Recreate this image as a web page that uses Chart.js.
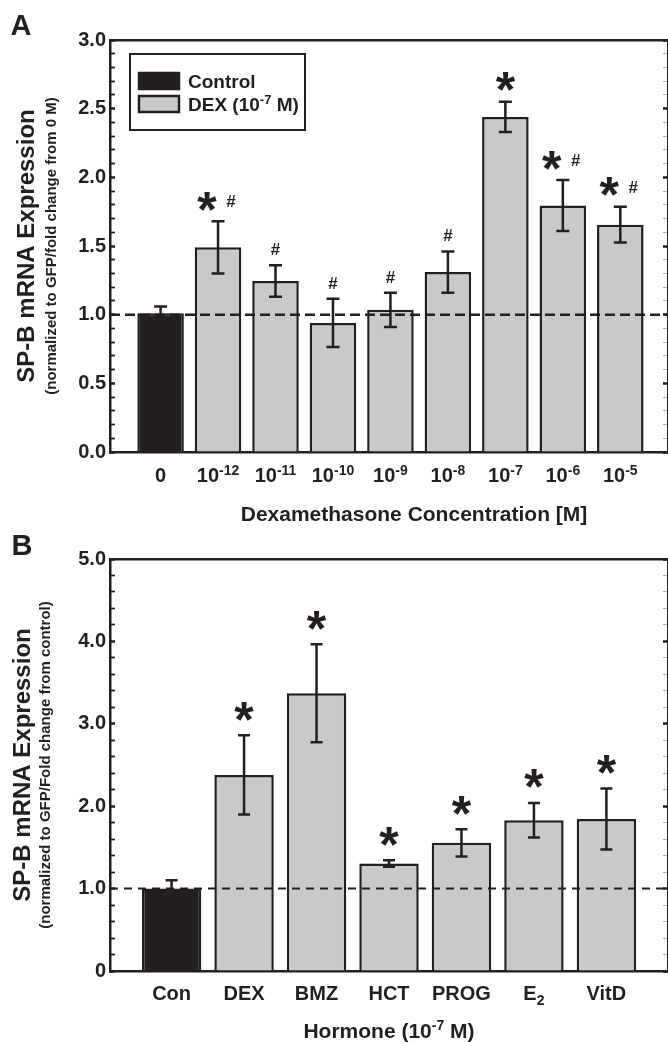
<!DOCTYPE html>
<html>
<head>
<meta charset="utf-8">
<script src="https://cdn.jsdelivr.net/npm/chart.js@4/dist/chart.umd.min.js"></script>
<style>
  html, body { margin: 0; padding: 0; background: #fff; }
  canvas { display: block; }
</style>
</head>
<body>
<canvas id="panelA" width="668" height="528"></canvas>
<canvas id="panelB" width="668" height="515"></canvas>
<script>
// Panel A: dexamethasone dose response
const doseLabels = ['0', '10⁻¹²', '10⁻¹¹', '10⁻¹⁰', '10⁻⁹', '10⁻⁸', '10⁻⁷', '10⁻⁶', '10⁻⁵'];
const doseMeans = [1.01, 1.49, 1.245, 0.94, 1.035, 1.31, 2.44, 1.795, 1.655];
const doseErrors = [0.05, 0.19, 0.115, 0.175, 0.125, 0.15, 0.11, 0.185, 0.13];
const doseMarks = ['', '*#', '#', '#', '#', '#', '*', '*#', '*#'];
const legendLabels = ['Control', 'DEX (10⁻⁷ M)'];

// Panel B: hormones at 10^-7 M
const hormoneLabels = ['Con', 'DEX', 'BMZ', 'HCT', 'PROG', 'E₂', 'VitD'];
const hormoneMeans = [1.0, 2.38, 3.37, 1.305, 1.555, 1.83, 1.845];
const hormoneErrors = [0.1, 0.48, 0.595, 0.04, 0.165, 0.21, 0.37];
const hormoneMarks = ['', '*', '*', '*', '*', '*', '*'];

const INK = '#231f20';
const GREY = '#c8c9cb';
const FONT = '"Liberation Sans", Arial, Helvetica, sans-serif';
const bold = size => ({ family: FONT, size: size, weight: 'bold' });

const SUP = { '⁻': '-', '⁰': '0', '¹': '1', '²': '2', '³': '3', '⁴': '4', '⁵': '5', '⁶': '6', '⁷': '7', '⁸': '8', '⁹': '9' };
const SUB = { '₀': '0', '₁': '1', '₂': '2', '₃': '3' };

// split "10⁻¹²" into runs of normal / raised / lowered text
function runs(str) {
  const out = [];
  for (const ch of str) {
    const kind = SUP[ch] ? 'sup' : SUB[ch] ? 'sub' : 'n';
    const c = SUP[ch] || SUB[ch] || ch;
    if (out.length && out[out.length - 1].kind === kind) out[out.length - 1].t += c;
    else out.push({ kind: kind, t: c });
  }
  return out;
}

// draw text with real superscripts/subscripts; cy = middle of the capitals
function richText(ctx, str, x, cy, size, align) {
  const small = Math.round(size * 0.68);
  const parts = runs(str).map(r => {
    ctx.font = 'bold ' + (r.kind === 'n' ? size : small) + 'px ' + FONT;
    return Object.assign(r, { w: ctx.measureText(r.t).width });
  });
  const total = parts.reduce((s, r) => s + r.w, 0);
  let px = align === 'center' ? x - total / 2 : x;
  const base = cy + size * 0.36;
  ctx.textAlign = 'left';
  ctx.textBaseline = 'alphabetic';
  parts.forEach(r => {
    ctx.font = 'bold ' + (r.kind === 'n' ? size : small) + 'px ' + FONT;
    const dy = r.kind === 'sup' ? -size * 0.36 : r.kind === 'sub' ? size * 0.22 : 0;
    ctx.fillText(r.t, px, base + dy);
    px += r.w;
  });
}

// text drawn centred on its ink, not on its em box
function inkText(ctx, str, x, cy) {
  const m = ctx.measureText(str);
  ctx.fillText(str, x, cy + (m.actualBoundingBoxAscent - m.actualBoundingBoxDescent) / 2);
}

const extras = {
  id: 'extras',
  afterDatasetsDraw(chart, args, p) {
    const { ctx, chartArea: a, scales: { x, y } } = chart;
    ctx.save();
    ctx.strokeStyle = INK;
    ctx.fillStyle = INK;

    // dashed line at fold change 1
    const yRef = y.getPixelForValue(1);
    ctx.lineWidth = p.dashWidth;
    ctx.setLineDash(p.dash);
    ctx.beginPath();
    ctx.moveTo(a.left, yRef);
    ctx.lineTo(a.right + 10, yRef);
    ctx.stroke();
    ctx.setLineDash([]);

    // error bars + significance marks
    ctx.lineWidth = 2.5;
    ctx.textAlign = 'center';
    p.means.forEach((m, i) => {
      const cx = x.getPixelForValue(i);
      const top = y.getPixelForValue(m + p.errors[i]);
      const bot = y.getPixelForValue(m - p.errors[i]);
      ctx.beginPath();
      ctx.moveTo(cx, top); ctx.lineTo(cx, bot);
      ctx.moveTo(cx - p.cap, top); ctx.lineTo(cx + p.cap, top);
      ctx.moveTo(cx - p.cap, bot); ctx.lineTo(cx + p.cap, bot);
      ctx.stroke();

      const mk = p.marks[i];
      const hasStar = mk.includes('*');
      const hasHash = mk.includes('#');
      const cy = hasStar ? top - p.starGap : top - p.hashGap;
      if (hasStar) {
        ctx.font = 'bold ' + p.starSize + 'px ' + FONT;
        inkText(ctx, '*', hasHash ? cx - 11 : cx, cy);
      }
      if (hasHash) {
        ctx.font = 'bold 17px ' + FONT;
        inkText(ctx, '#', hasStar ? cx + 13 : cx, cy);
      }
    });
    ctx.restore();
  },
  afterDraw(chart, args, p) {
    const { ctx, chartArea: a, scales: { x } } = chart;
    ctx.save();
    ctx.fillStyle = INK;

    // category labels and axis title (with real superscripts)
    p.labels.forEach((lab, i) => {
      richText(ctx, lab, x.getPixelForValue(i), a.bottom + p.labelGap, 20, 'center');
    });
    richText(ctx, p.xTitle, (a.left + a.right) / 2 + p.titleShift, p.titleY, 21, 'center');

    ctx.font = 'bold 29px ' + FONT;
    ctx.textAlign = 'center';
    inkText(ctx, p.letter, p.letterX, p.letterY);

    if (p.legend) {
      const bx = a.left + 20, by = a.top + 14;
      ctx.lineWidth = 2;
      ctx.strokeStyle = INK;
      ctx.fillStyle = '#fff';
      ctx.fillRect(bx, by, 175, 76);
      ctx.strokeRect(bx, by, 175, 76);
      const fills = [INK, GREY];
      p.legend.forEach((lab, i) => {
        const sy = by + 18 + i * 23;
        ctx.fillStyle = fills[i];
        ctx.fillRect(bx + 8, sy, 42, 18);
        ctx.lineWidth = 2.5;
        ctx.strokeRect(bx + 9, sy + 1, 40, 16);
        ctx.fillStyle = INK;
        richText(ctx, lab, bx + 58, sy + 9, 19, 'left');
      });
    }
    ctx.restore();
  }
};

function makePanel(id, p) {
  const n = p.labels.length;
  const isMajor = v => Math.abs(v / p.major - Math.round(v / p.major)) < 1e-6;
  const yRange = { min: 0, max: p.yMax };
  new Chart(document.getElementById(id), {
    type: 'bar',
    data: {
      datasets: [{
        data: p.means.map((v, i) => ({ x: i, y: v })),
        backgroundColor: p.means.map((v, i) => i === 0 ? INK : GREY),
        borderColor: INK,
        borderWidth: 2.5,
        barPercentage: 1,
        categoryPercentage: p.barFrac
      }]
    },
    plugins: [extras],
    options: {
      responsive: false,
      animation: false,
      layout: { padding: { top: p.padTop, right: -4, left: 0, bottom: 0 } },
      plugins: {
        legend: { display: false },
        tooltip: { enabled: false },
        extras: p
      },
      scales: {
        x: {
          type: 'linear', position: 'bottom', offset: false,
          min: -p.edgeL, max: n - 1 + p.edgeR,
          afterBuildTicks: s => { s.ticks = p.labels.map((l, i) => ({ value: i })); },
          afterFit: s => { s.height = p.xHeight; },
          grid: { display: false, drawTicks: false },
          border: { color: INK, width: 2.5 },
          ticks: { display: false }
        },
        xTop: {
          type: 'linear', position: 'top', offset: false,
          min: -p.edgeL, max: n - 1 + p.edgeR,
          afterFit: s => { s.height = 0; },
          ticks: { display: false },
          grid: { drawOnChartArea: false, drawTicks: false },
          border: { color: INK, width: 2.5 }
        },
        y: {
          type: 'linear', position: 'left', ...yRange,
          afterFit: s => { s.width = p.yWidth; },
          ticks: {
            stepSize: p.minor, maxTicksLimit: 200, autoSkip: false,
            color: INK, font: bold(20), padding: 9,
            callback: v => isMajor(v) ? p.fmt(v) : ''
          },
          grid: {
            drawOnChartArea: false, drawTicks: true, tickLength: -5,
            tickColor: INK,
            tickWidth: c => isMajor(c.tick.value) ? 2.5 : 1.8
          },
          border: { color: INK, width: 2.5 },
          title: {
            display: true, text: p.ySub, color: INK, font: bold(15),
            padding: { top: p.subPad, bottom: 0 }
          }
        },
        yTitle: {
          type: 'linear', position: 'left', weight: 1, ...yRange,
          afterFit: s => { s.width = 110 - p.yWidth; },
          ticks: { display: false },
          grid: { display: false, drawTicks: false },
          border: { display: false },
          title: {
            display: true, text: 'SP-B mRNA Expression', color: INK, font: bold(24),
            padding: { top: p.titlePad, bottom: 0 }
          }
        },
        yRight: {
          type: 'linear', position: 'right', ...yRange,
          afterFit: s => { s.width = 0; },
          ticks: { display: false, stepSize: p.minor, maxTicksLimit: 200 },
          grid: {
            drawOnChartArea: false, drawTicks: true, tickLength: -5,
            tickColor: c => isMajor(c.tick.value) ? INK : '#b0b0b0',
            tickWidth: c => isMajor(c.tick.value) ? 2.5 : 1
          },
          border: { color: INK, width: 2.5 }
        }
      }
    }
  });
}

makePanel('panelA', {
  letter: 'A', letterX: 21, letterY: 25,
  labels: doseLabels, means: doseMeans, errors: doseErrors, marks: doseMarks,
  legend: legendLabels,
  xTitle: 'Dexamethasone Concentration [M]',
  ySub: '(normalized to GFP/fold change from 0 M)',
  yMax: 3, major: 0.5, minor: 0.1, fmt: v => v.toFixed(1),
  edgeL: 0.88, edgeR: 0.83, barFrac: 0.81,
  padTop: 40, xHeight: 76, labelGap: 23, titleY: 513, titleShift: 25,
  yWidth: 70, titlePad: 13, subPad: 3,
  dash: [10, 5], dashWidth: 2.5, cap: 6.5,
  starSize: 50, starGap: 20, hashGap: 16
});

makePanel('panelB', {
  letter: 'B', letterX: 22, letterY: 17,
  labels: hormoneLabels, means: hormoneMeans, errors: hormoneErrors, marks: hormoneMarks,
  legend: null,
  xTitle: 'Hormone (10⁻⁷ M)',
  ySub: '(normalized to GFP/Fold change from control)',
  yMax: 5, major: 1, minor: 0.2, fmt: v => v === 0 ? '0' : v.toFixed(1),
  edgeL: 0.85, edgeR: 0.85, barFrac: 0.82,
  padTop: 31, xHeight: 72, labelGap: 22, titleY: 502, titleShift: 0,
  yWidth: 73, titlePad: 9, subPad: 0,
  dash: [8, 6], dashWidth: 2, cap: 6,
  starSize: 50, starGap: 24, hashGap: 16
});
</script>
</body>
</html>
